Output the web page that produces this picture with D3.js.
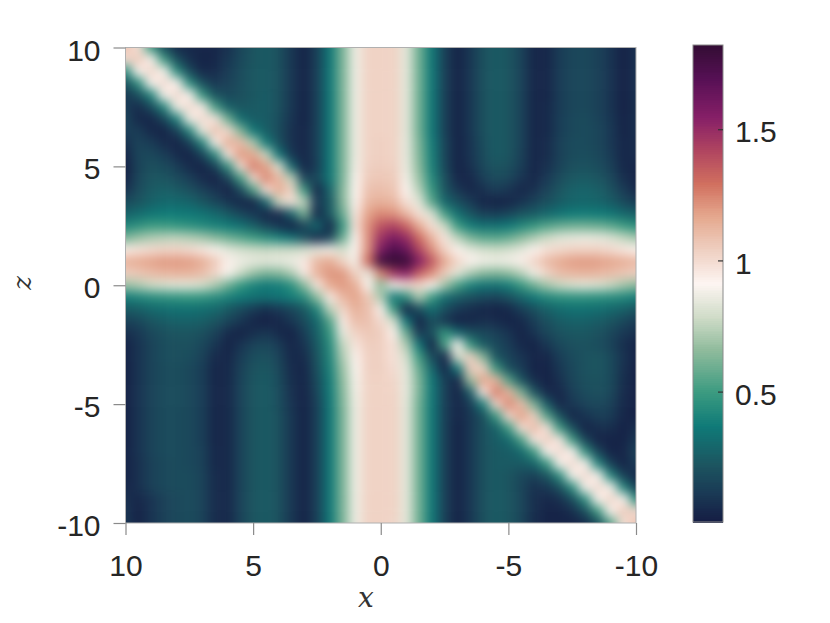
<!DOCTYPE html>
<html>
<head>
<meta charset="utf-8">
<script src="https://cdn.jsdelivr.net/npm/d3@7/dist/d3.min.js"></script>
<style>
html,body{margin:0;padding:0;background:#fff;overflow:hidden}
svg{display:block}
.tk text{font-family:"Liberation Sans",Arial,sans-serif;font-size:30px;fill:#262626}
.tk path,.tk line{stroke:#8a8a8a;stroke-width:1.2px}
</style>
</head>
<body>
<script>
const xValues = d3.range(41).map(i => 10 - i * 0.5);
const zValues = d3.range(41).map(i => 10 - i * 0.5);
const xTicks = [10, 5, 0, -5, -10];
const zTicks = [10, 5, 0, -5, -10];
const barTicks = [0.5, 1, 1.5];
const barDomain = [0.003, 1.821];
const curlStops = ["#151d44","#1a3a55","#1c5560","#0f7a78","#3a9a80","#8fbb9c","#d0dcc8","#fdf5f2","#efd0c2","#e5a98f","#d1705f","#b04560","#861f67","#571055","#340d35"];
const curlPositions = [0,0.06,0.12,0.2,0.27,0.36,0.43,0.5,0.57,0.64,0.71,0.78,0.85,0.93,1];

const fieldRows = [
[1.08,.98,.5,.2,.06,.05,.04,.04,.08,.16,.22,.24,.2,.1,.03,.14,.36,.62,.87,1.03,1.03,1.03,.84,.6,.36,.14,.03,.1,.2,.24,.22,.15,.04,.04,.12,.16,.17,.14,.09,.02,.08],
[1.0,1.06,.92,.5,.2,.07,.03,.04,.1,.17,.22,.24,.2,.1,.03,.14,.36,.62,.87,1.03,1.03,1.03,.84,.6,.36,.14,.03,.1,.2,.24,.22,.15,.04,.04,.12,.16,.17,.14,.09,.02,.08],
[.45,.92,1.02,.9,.45,.18,.05,.06,.12,.18,.23,.24,.2,.1,.03,.14,.36,.62,.87,1.03,1.03,1.03,.84,.6,.36,.14,.03,.1,.2,.24,.22,.15,.04,.04,.12,.16,.17,.14,.09,.02,.08],
[.2,.45,.92,1.0,.92,.45,.2,.1,.14,.19,.23,.24,.2,.1,.03,.14,.36,.62,.87,1.03,1.03,1.03,.84,.6,.36,.14,.03,.1,.2,.24,.22,.15,.04,.04,.12,.16,.17,.14,.09,.02,.08],
[.1,.2,.42,.9,1.0,.92,.48,.22,.17,.2,.23,.25,.2,.1,.03,.14,.36,.62,.87,1.03,1.03,1.03,.84,.6,.36,.14,.03,.1,.2,.24,.22,.15,.04,.04,.12,.16,.17,.14,.09,.02,.08],
[.12,.06,.18,.42,.88,1.0,.94,.52,.27,.22,.24,.25,.2,.1,.03,.14,.36,.62,.87,1.03,1.03,1.03,.84,.6,.36,.14,.03,.1,.2,.24,.22,.15,.04,.05,.12,.16,.17,.14,.09,.02,.07],
[.15,.05,.04,.16,.4,.88,1.0,.96,.6,.32,.25,.25,.19,.09,.03,.14,.36,.62,.87,1.03,1.03,1.03,.84,.6,.36,.14,.03,.1,.2,.24,.22,.15,.04,.05,.13,.17,.18,.15,.1,.03,.07],
[.13,.12,.05,.03,.14,.42,.86,1.08,1.0,.64,.36,.26,.18,.08,.04,.14,.36,.62,.87,1.03,1.03,1.03,.84,.6,.36,.14,.03,.1,.2,.24,.22,.15,.04,.05,.13,.17,.18,.16,.11,.03,.07],
[.08,.15,.12,.06,.03,.14,.42,.9,1.14,1.1,.72,.38,.2,.08,.04,.14,.36,.62,.87,1.03,1.04,1.03,.85,.62,.38,.16,.03,.09,.19,.24,.22,.15,.04,.06,.14,.18,.18,.16,.11,.04,.06],
[.04,.16,.17,.13,.06,.03,.15,.44,.95,1.2,1.16,.78,.35,.1,.04,.14,.36,.62,.87,1.03,1.04,1.03,.85,.63,.39,.16,.03,.09,.18,.24,.22,.14,.04,.06,.14,.18,.19,.17,.12,.04,.06],
[.02,.15,.2,.18,.13,.06,.03,.14,.46,.98,1.26,1.18,.82,.3,.04,.13,.36,.62,.88,1.04,1.05,1.04,.86,.65,.4,.17,.03,.08,.17,.22,.2,.13,.04,.08,.15,.2,.21,.19,.14,.05,.04],
[.03,.16,.22,.22,.18,.13,.06,.02,.14,.5,1.0,1.24,1.12,.75,.15,.17,.35,.62,.9,1.06,1.07,1.06,.88,.68,.43,.2,.04,.04,.13,.18,.16,.09,.04,.11,.18,.23,.24,.22,.17,.07,.03],
[.08,.18,.24,.26,.24,.2,.14,.09,.02,.16,.52,.98,1.15,1.03,.5,.04,.28,.64,.91,1.09,1.1,1.08,.92,.74,.48,.22,.1,.04,.07,.12,.09,.04,.08,.15,.22,.27,.28,.26,.21,.12,.05],
[.18,.22,.27,.3,.3,.28,.23,.17,.1,.05,.04,.3,.78,.98,.75,.11,.24,.64,.92,1.12,1.14,1.12,.98,.84,.56,.3,.2,.12,.04,.03,.04,.09,.15,.2,.25,.28,.29,.28,.25,.18,.12],
[.27,.31,.35,.37,.37,.36,.34,.3,.24,.17,.11,.04,.05,.28,.62,.05,.24,.58,.96,1.18,1.24,1.22,1.12,.98,.82,.52,.33,.22,.14,.13,.16,.22,.25,.3,.34,.37,.38,.37,.35,.3,.26],
[.42,.46,.5,.5,.48,.46,.43,.4,.37,.33,.26,.17,.09,.03,.15,.3,.04,.48,.98,1.22,1.38,1.42,1.32,1.15,.98,.78,.5,.38,.33,.33,.36,.42,.48,.54,.58,.6,.6,.59,.56,.5,.45],
[.62,.68,.72,.74,.75,.73,.7,.65,.6,.55,.5,.45,.4,.33,.2,.06,.16,.58,.92,1.22,1.48,1.58,1.5,1.3,1.12,.96,.75,.62,.56,.55,.58,.65,.72,.78,.83,.85,.86,.85,.82,.76,.7],
[.94,.97,1.0,1.02,1.02,1.0,.96,.9,.84,.8,.78,.77,.78,.78,.8,.85,.88,.8,.9,1.22,1.58,1.72,1.64,1.42,1.22,1.03,.92,.84,.8,.78,.8,.84,.92,.98,1.01,1.03,1.03,1.03,1.0,.96,.92],
[1.14,1.16,1.18,1.2,1.2,1.19,1.15,1.06,.93,.87,.85,.84,.85,.87,.95,1.12,1.16,1.03,.88,1.3,1.78,1.88,1.8,1.55,1.36,1.16,1.02,.92,.88,.87,.88,.93,1.02,1.11,1.16,1.19,1.2,1.19,1.17,1.15,1.12],
[1.04,1.07,1.1,1.12,1.13,1.13,1.1,1.02,.9,.78,.68,.62,.64,.72,.95,1.13,1.21,1.2,1.03,.85,1.25,1.46,1.54,1.34,1.22,1.05,.84,.72,.65,.63,.66,.74,.88,1.02,1.1,1.12,1.13,1.12,1.1,1.07,1.04],
[.68,.72,.78,.81,.83,.83,.8,.72,.6,.48,.4,.36,.38,.45,.65,.96,1.16,1.2,1.15,.92,.65,.88,1.0,1.02,.9,.7,.52,.4,.34,.33,.38,.48,.6,.7,.77,.81,.83,.81,.77,.7,.65],
[.38,.41,.44,.46,.47,.48,.47,.44,.4,.36,.33,.32,.34,.38,.44,.66,.95,1.12,1.18,1.07,.72,.35,.45,.72,.5,.32,.25,.2,.17,.15,.2,.28,.36,.42,.45,.46,.46,.45,.44,.42,.38],
[.24,.26,.3,.32,.33,.33,.32,.3,.24,.18,.12,.07,.11,.16,.24,.42,.75,1.02,1.14,1.09,.93,.5,.03,.2,.32,.2,.11,.07,.04,.03,.05,.13,.2,.27,.31,.33,.33,.32,.3,.27,.22],
[.14,.17,.22,.25,.27,.27,.26,.22,.16,.1,.04,.02,.04,.1,.18,.3,.55,.95,1.1,1.09,1.0,.8,.35,.03,.2,.1,.03,.04,.07,.06,.03,.05,.13,.2,.25,.27,.27,.25,.22,.17,.12],
[.07,.11,.17,.2,.22,.22,.2,.15,.06,.03,.07,.1,.05,.03,.13,.27,.48,.85,1.03,1.07,1.05,.93,.58,.1,.2,.48,.3,.2,.17,.14,.09,.03,.09,.16,.21,.23,.23,.21,.17,.11,.07],
[.03,.09,.15,.19,.2,.2,.17,.1,.03,.09,.15,.17,.12,.04,.09,.24,.44,.76,.97,1.05,1.04,.98,.72,.35,.03,.52,.92,.48,.24,.18,.12,.05,.03,.1,.17,.2,.21,.19,.15,.07,.03],
[.03,.09,.15,.19,.2,.19,.15,.06,.04,.12,.19,.21,.15,.05,.06,.22,.42,.72,.93,1.04,1.04,.98,.8,.5,.18,.05,.8,1.04,.64,.22,.15,.09,.04,.04,.13,.18,.21,.22,.18,.09,.03],
[.02,.09,.15,.18,.19,.17,.13,.04,.05,.14,.21,.23,.17,.06,.04,.2,.4,.68,.9,1.04,1.04,1.0,.84,.58,.3,.04,.36,1.06,1.03,.5,.2,.12,.03,.03,.1,.17,.21,.22,.18,.08,.02],
[.02,.09,.15,.18,.19,.17,.13,.04,.05,.15,.22,.24,.18,.07,.04,.18,.38,.66,.89,1.03,1.03,1.02,.85,.62,.36,.14,.04,.68,1.17,1.12,.55,.22,.07,.02,.08,.16,.2,.21,.18,.07,.02],
[.02,.09,.15,.18,.19,.17,.13,.04,.05,.15,.22,.24,.19,.08,.03,.16,.37,.64,.88,1.03,1.03,1.03,.85,.62,.36,.14,.03,.25,.95,1.26,1.13,.62,.22,.05,.04,.13,.18,.2,.17,.06,.02],
[.02,.09,.15,.18,.19,.17,.13,.04,.05,.15,.22,.24,.19,.09,.03,.14,.36,.63,.87,1.03,1.03,1.03,.84,.6,.36,.14,.04,.12,.4,1.0,1.24,1.1,.62,.25,.04,.1,.15,.17,.14,.05,.02],
[.02,.09,.15,.18,.18,.17,.13,.04,.05,.15,.22,.24,.2,.1,.03,.14,.36,.62,.87,1.03,1.03,1.03,.84,.6,.36,.14,.04,.1,.2,.48,1.0,1.18,1.03,.55,.22,.04,.09,.13,.12,.04,.02],
[.02,.09,.15,.18,.18,.17,.13,.04,.05,.15,.22,.24,.2,.1,.03,.14,.36,.62,.87,1.03,1.03,1.03,.84,.6,.36,.14,.03,.1,.2,.27,.5,.98,1.1,.97,.5,.2,.03,.07,.07,.02,.07],
[.02,.09,.15,.18,.18,.17,.13,.04,.05,.15,.22,.24,.2,.1,.03,.14,.36,.62,.87,1.03,1.03,1.03,.84,.6,.36,.14,.03,.1,.2,.25,.3,.52,.95,1.04,.95,.5,.16,.03,.03,.03,.1],
[.03,.09,.15,.18,.18,.17,.14,.05,.05,.15,.22,.24,.2,.1,.03,.14,.36,.62,.87,1.03,1.03,1.03,.84,.6,.36,.14,.03,.1,.2,.24,.25,.3,.5,.92,1.0,.92,.47,.16,.03,.04,.15],
[.03,.08,.14,.17,.18,.17,.14,.05,.05,.15,.22,.24,.2,.1,.03,.14,.36,.62,.87,1.03,1.03,1.03,.84,.6,.36,.14,.03,.1,.2,.24,.24,.24,.28,.48,.9,1.0,.9,.42,.14,.03,.12],
[.03,.08,.14,.17,.18,.18,.15,.06,.05,.15,.22,.24,.2,.1,.03,.14,.36,.62,.87,1.03,1.03,1.03,.84,.6,.36,.14,.03,.1,.2,.24,.22,.17,.14,.22,.45,.9,1.0,.9,.42,.14,.05],
[.04,.08,.14,.17,.18,.18,.15,.06,.05,.15,.22,.24,.2,.1,.03,.14,.36,.62,.87,1.03,1.03,1.03,.84,.6,.36,.14,.03,.1,.2,.24,.22,.16,.08,.1,.2,.45,.9,1.0,.9,.42,.14],
[.07,.04,.09,.14,.17,.18,.15,.06,.05,.15,.22,.24,.2,.1,.03,.14,.36,.62,.87,1.03,1.03,1.03,.84,.6,.36,.14,.03,.1,.2,.24,.22,.16,.07,.04,.07,.19,.45,.92,1.02,.92,.45],
[.09,.03,.09,.14,.17,.18,.15,.06,.05,.15,.22,.24,.2,.1,.03,.14,.36,.62,.87,1.03,1.03,1.03,.84,.6,.36,.14,.03,.1,.2,.24,.22,.16,.07,.03,.03,.07,.2,.5,.92,1.06,1.0],
[.1,.03,.09,.14,.17,.18,.15,.06,.05,.15,.22,.24,.2,.1,.03,.14,.36,.62,.87,1.03,1.03,1.02,.84,.6,.36,.14,.03,.1,.2,.24,.22,.16,.06,.03,.03,.03,.06,.2,.55,.98,1.08]
];

const W = 830, H = 623;
const plot = {left:125.5, right:636, top:47.5, bottom:523};
const bar = {left:693, right:723, top:45, bottom:522};

const badRows = fieldRows.map((r,i)=>[i,r.length]).filter(d=>d[1]!==41);
if (fieldRows.length !== 41 || badRows.length) console.error("grid shape", fieldRows.length, badRows);

const colorOf = d3.scaleLinear().domain(curlPositions).range(curlStops).interpolate(d3.interpolateRgb).clamp(true);
const color = v => colorOf((v - barDomain[0]) / (barDomain[1] - barDomain[0]));
const label = d3.format("d");
const plain = d => label(d).replace("\u2212","-");

const svg = d3.select("body").append("svg").attr("width",W).attr("height",H);
const xScale = d3.scaleLinear().domain([10,-10]).range([plot.left,plot.right]);
const zScale = d3.scaleLinear().domain([10,-10]).range([plot.top,plot.bottom]);
const barScale = d3.scaleLinear().domain(barDomain).range([bar.bottom,bar.top]);

const defs = svg.append("defs");
defs.append("clipPath").attr("id","plotclip").append("rect")
  .attr("x",plot.left).attr("y",plot.top).attr("width",plot.right-plot.left).attr("height",plot.bottom-plot.top);
const blur = defs.append("filter").attr("id","soft").attr("filterUnits","userSpaceOnUse")
  .attr("x",plot.left-60).attr("y",plot.top-60).attr("width",plot.right-plot.left+120).attr("height",plot.bottom-plot.top+120)
  .attr("color-interpolation-filters","sRGB");
blur.append("feGaussianBlur").attr("stdDeviation",5.4);

const dx = Math.abs(xScale(xValues[1])-xScale(xValues[0]));
const dz = Math.abs(zScale(zValues[1])-zScale(zValues[0]));
const pad = 30;
const cells = [];
fieldRows.forEach((row,r)=>row.forEach((v,c)=>cells.push({r,c,v})));
svg.append("g").attr("clip-path","url(#plotclip)")
  .append("g").attr("filter","url(#soft)")
  .selectAll("rect").data(cells).join("rect")
  .attr("x",d=>xScale(xValues[d.c])-dx/2-(d.c===0?pad:0))
  .attr("y",d=>zScale(zValues[d.r])-dz/2-(d.r===0?pad:0))
  .attr("width",d=>dx+0.6+((d.c===0||d.c===40)?pad:0))
  .attr("height",d=>dz+0.6+((d.r===0||d.r===40)?pad:0))
  .attr("fill",d=>color(d.v));

svg.append("rect").attr("x",plot.left).attr("y",plot.top).attr("width",plot.right-plot.left).attr("height",plot.bottom-plot.top)
  .attr("fill","none").attr("stroke","#b0b0b0").attr("stroke-width",1);

const axB = svg.append("g").attr("class","tk").attr("transform",`translate(0,${plot.bottom})`)
  .call(d3.axisBottom(xScale).tickValues(xTicks).tickSize(12).tickSizeOuter(0).tickPadding(20).tickFormat(plain));
axB.select(".domain").remove();
const axL = svg.append("g").attr("class","tk").attr("transform",`translate(${plot.left},0)`)
  .call(d3.axisLeft(zScale).tickValues(zTicks).tickSize(12).tickSizeOuter(0).tickPadding(13).tickFormat(plain));
axL.select(".domain").remove();
axL.selectAll("text").attr("dy","0.42em");

const levels = d3.range(256).map(i => barDomain[0] + (barDomain[1]-barDomain[0])*i/255);
const bh = (bar.bottom-bar.top)/256;
svg.append("g").attr("shape-rendering","crispEdges").selectAll("rect").data(levels).join("rect")
  .attr("x",bar.left).attr("width",bar.right-bar.left)
  .attr("y",(d,i)=>bar.bottom-(i+1)*bh).attr("height",bh+0.5)
  .attr("fill",d=>color(d));
svg.append("rect").attr("x",bar.left).attr("y",bar.top).attr("width",bar.right-bar.left).attr("height",bar.bottom-bar.top)
  .attr("fill","none").attr("stroke","#8a8a8a").attr("stroke-width",1);
const axR = svg.append("g").attr("class","tk").attr("transform",`translate(${bar.right},0)`)
  .call(d3.axisRight(barScale).tickValues(barTicks).tickSize(-5).tickSizeOuter(0).tickPadding(12).tickFormat(d3.format("")));
axR.select(".domain").remove();
axR.selectAll("line").style("stroke","#333");
axR.selectAll("text").attr("dy","0.42em");

svg.append("text").attr("x",366).attr("y",607).attr("text-anchor","middle")
  .attr("font-family","'DejaVu Serif','Liberation Serif',serif").attr("font-style","italic").attr("font-size",28).attr("fill","#333").text("x");
svg.append("text").attr("transform","translate(31,283) rotate(-90)").attr("text-anchor","middle")
  .attr("font-family","'DejaVu Serif','Liberation Serif',serif").attr("font-style","italic").attr("font-size",26).attr("fill","#333").text("z");
</script>
</body>
</html>
